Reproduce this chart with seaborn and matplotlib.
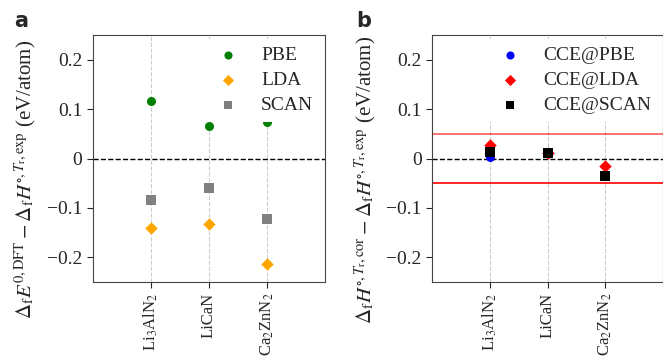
import pandas as pd
import seaborn as sns
import matplotlib
matplotlib.use("Agg")
import matplotlib.pyplot as plt

compounds = ["Li$_3$AlN$_2$", "LiCaN", "Ca$_2$ZnN$_2$"]

# panel a: raw DFT errors
pbe = [0.116, 0.065, 0.074]
lda = [-0.140, -0.133, -0.213]
scan = [-0.084, -0.059, -0.122]

# panel b: CCE-corrected errors
cce_pbe = [0.003, 0.011, -0.033]
cce_lda = [0.028, 0.011, -0.015]
cce_scan = [0.014, 0.012, -0.036]

yticks = [-0.2, -0.1, 0, 0.1, 0.2]
ytick_labels = ["\u22120.2", "\u22120.1", "0", "0.1", "0.2"]
tol = 0.05


def main():
    sns.set_style("ticks")
    plt.rcParams["font.family"] = ["Liberation Serif", "DejaVu Serif"]
    plt.rcParams["mathtext.fontset"] = "stix"
    plt.rcParams["axes.edgecolor"] = "#444444"

    fig = plt.figure(figsize=(6.63, 3.58), dpi=100)
    ax_a = fig.add_axes([0.140, 0.212, 0.350, 0.690])
    ax_b = fig.add_axes([0.6516, 0.212, 0.3484, 0.690])

    panels = [
        (ax_a, [("PBE", pbe, "green", "o"),
                ("LDA", lda, "orange", "D"),
                ("SCAN", scan, "gray", "s")],
         r"$\Delta_{\rm f}E^{0,\rm DFT} - \Delta_{\rm f}H^{\circ,T_{\rm r},\rm exp}$ (eV/atom)",
         -0.235),
        (ax_b, [("CCE@PBE", cce_pbe, "blue", "o"),
                ("CCE@LDA", cce_lda, "red", "D"),
                ("CCE@SCAN", cce_scan, "black", "s")],
         r"$\Delta_{\rm f}H^{\circ,T_{\rm r},\rm cor} - \Delta_{\rm f}H^{\circ,T_{\rm r},\rm exp}$ (eV/atom)",
         -0.23),
    ]

    for ax, series, ylabel, lab_x in panels:
        for name, vals, col, mk in series:
            df = pd.DataFrame({"compound": compounds, "err": vals})
            sns.scatterplot(data=df, x="compound", y="err", ax=ax, color=col,
                            marker=mk, s=42 if mk != "D" else 40, linewidth=0,
                            label=name, zorder=3)
        ax.axhline(0, color="black", ls="--", lw=1, zorder=2)
        ax.set_xlim(-1, 3)
        ax.set_ylim(-0.25, 0.25)
        ax.set_yticks(yticks)
        ax.set_yticklabels(ytick_labels)
        ax.tick_params(axis="x", labelrotation=90, labelsize=12, length=4)
        ax.tick_params(axis="y", labelsize=14, length=4)
        ax.grid(axis="x", color="#cccccc", ls="--", lw=0.8)
        ax.set_axisbelow(True)
        ax.set_xlabel("")
        ax.set_ylabel(ylabel, fontsize=15)
        ax.yaxis.set_label_coords(lab_x, 0.415)
        leg = ax.legend(loc="upper right", fontsize=14, frameon=True,
                        handletextpad=0.7, labelspacing=0.38,
                        borderaxespad=0.2, markerscale=0.9)
        leg.get_frame().set_edgecolor("none")
        leg.get_frame().set_alpha(1)

    ax_b.axhline(tol, color="red", lw=1.2, alpha=0.65, zorder=1)
    ax_b.axhline(-tol, color="red", lw=1.2, zorder=1)

    fig.text(0.022, 0.925, "a", fontsize=15, fontweight="bold", family="DejaVu Sans")
    fig.text(0.537, 0.925, "b", fontsize=15, fontweight="bold", family="DejaVu Sans")

    fig.savefig("out.png", dpi=100)


if __name__ == "__main__":
    main()
